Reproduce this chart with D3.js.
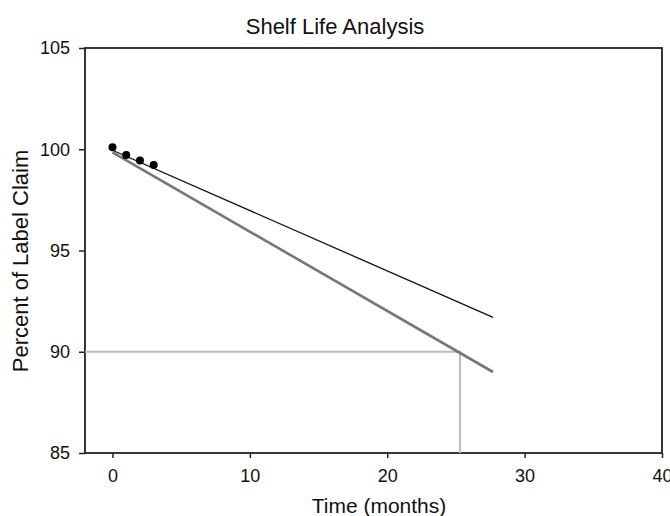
<!DOCTYPE html>
<html>
<head>
<meta charset="utf-8">
<style>
  body { margin: 0; background: #fff; }
  text { font-family: "Liberation Sans", Arial, sans-serif; fill: #111; }
</style>
</head>
<body>
<svg width="670" height="516"></svg>
<script src="https://d3js.org/d3.v7.min.js"></script>
<script>
// measured stability data
var months = [0, 1, 2, 3];
var percent = [100.1, 99.72, 99.45, 99.22];

// fitted regression line and lower confidence bound (endpoints)
var fitT = [0, 27.7];
var fitY = [99.95, 91.7];
var lowerT = [0, 27.7];
var lowerY = [99.85, 89.0];

// shelf life read-off
var specLimit = 90;
var shelfLife = 25.3;

var xTicks = [0, 10, 20, 30, 40];
var yTicks = [85, 90, 95, 100, 105];

var svg = d3.select("svg");
var mLeft = 85, mRight = 662, mTop = 48, mBottom = 453;

var x = d3.scaleLinear().domain([-2, 40]).range([mLeft, mRight]);
var y = d3.scaleLinear().domain([85, 105]).range([mBottom, mTop]);

// frame
svg.append("rect")
    .attr("x", mLeft).attr("y", mTop)
    .attr("width", mRight - mLeft).attr("height", mBottom - mTop)
    .attr("fill", "none").attr("stroke", "#222").attr("stroke-width", 1.8);

// axes
var xAxis = svg.append("g")
    .attr("transform", "translate(0," + mBottom + ")")
    .call(d3.axisBottom(x).tickValues(xTicks).tickSize(5).tickPadding(11).tickFormat(d3.format("d")));
var yAxis = svg.append("g")
    .attr("transform", "translate(" + mLeft + ",0)")
    .call(d3.axisLeft(y).tickValues(yTicks).tickSize(6).tickPadding(9).tickFormat(d3.format("d")));
[xAxis, yAxis].forEach(function (g) {
    g.attr("font-size", null).attr("font-family", null);
    g.select(".domain").remove();
    g.selectAll("line").attr("stroke", "#222").attr("stroke-width", 1.5);
    g.selectAll("text").style("font-size", "18px").attr("fill", "#111");
});

// shelf life guide lines
svg.append("path")
    .attr("d", d3.line()([[x(-2), y(specLimit)], [x(shelfLife), y(specLimit)], [x(shelfLife), y(85)]]))
    .attr("fill", "none").attr("stroke", "#bbb").attr("stroke-width", 2);

var line = d3.line().x(function (d) { return x(d[0]); }).y(function (d) { return y(d[1]); });

// lower confidence bound
svg.append("path")
    .datum(d3.zip(lowerT, lowerY))
    .attr("d", line)
    .attr("fill", "none").attr("stroke", "#777").attr("stroke-width", 2.6);

// regression line
svg.append("path")
    .datum(d3.zip(fitT, fitY))
    .attr("d", line)
    .attr("fill", "none").attr("stroke", "#111").attr("stroke-width", 1.3);

// data points
svg.append("g").selectAll("circle")
    .data(d3.zip(months, percent))
    .enter().append("circle")
    .attr("cx", function (d) { return x(d[0]); })
    .attr("cy", function (d) { return y(d[1]); })
    .attr("r", 4)
    .attr("fill", "#000");

// title and labels
svg.append("text")
    .attr("x", 335).attr("y", 34)
    .attr("text-anchor", "middle")
    .style("font-size", "22px")
    .text("Shelf Life Analysis");

svg.append("text")
    .attr("x", 379).attr("y", 513)
    .attr("text-anchor", "middle")
    .style("font-size", "21px")
    .text("Time (months)");

svg.append("text")
    .attr("transform", "translate(28,261)rotate(-90)")
    .attr("text-anchor", "middle")
    .style("font-size", "22px")
    .text("Percent of Label Claim");
</script>
</body>
</html>
